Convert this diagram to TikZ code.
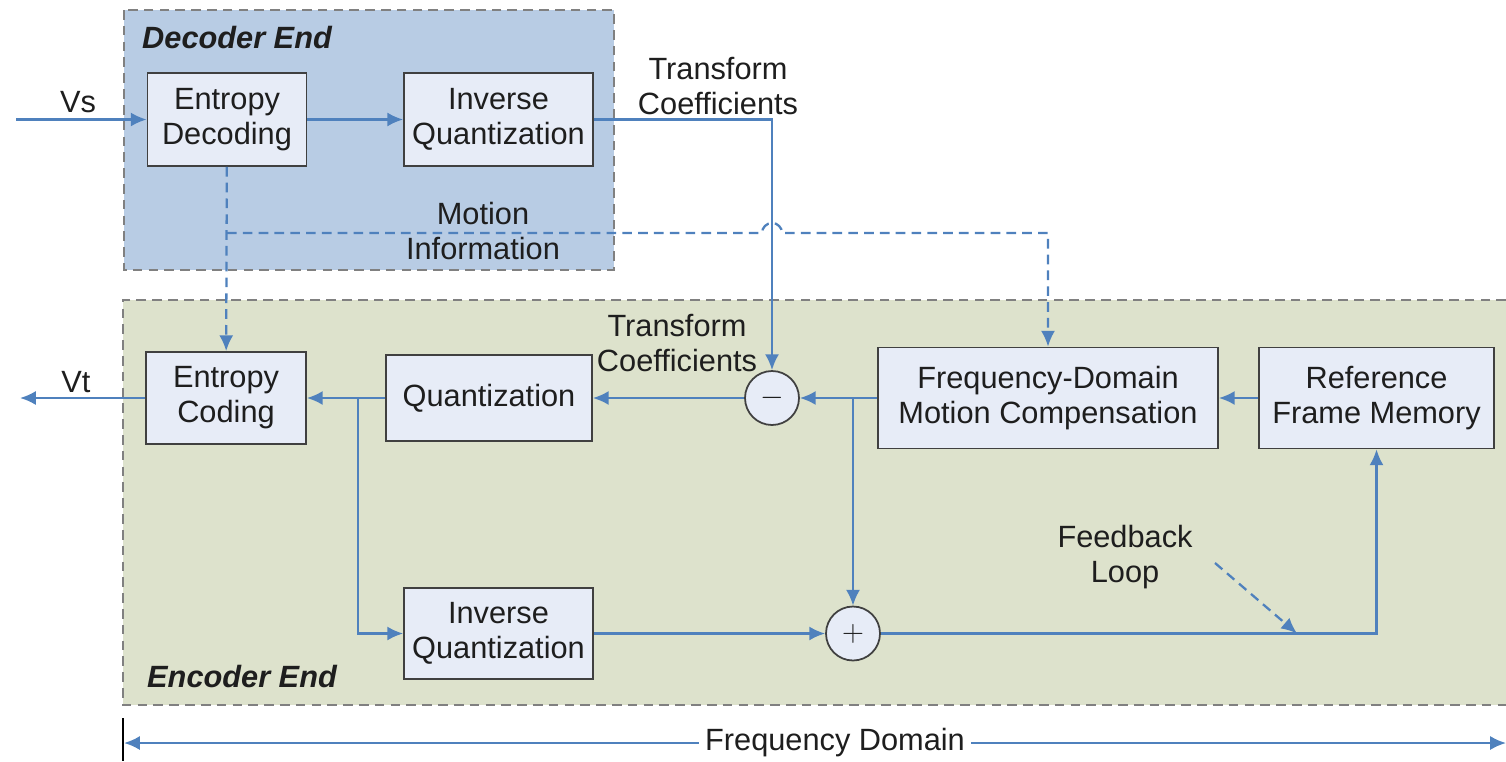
\documentclass[tikz,border=0pt]{standalone}
\usepackage{fontspec}
\setmainfont{Liberation Sans}
\usetikzlibrary{arrows.meta}
\definecolor{decfill}{RGB}{184,204,228}
\definecolor{encfill}{RGB}{221,226,204}
\definecolor{blockfill}{RGB}{231,236,247}
\definecolor{linecol}{RGB}{79,129,189}
\definecolor{txtcol}{RGB}{30,30,30}
\begin{document}
\begin{tikzpicture}[
                            x=0.02cm, y=-0.02cm,
                            >={Latex[length=9pt,width=8pt]},
                            font=\fontsize{17.5}{20}\selectfont,
                            text=txtcol,
                            block/.style={draw=black!75, line width=1pt, fill=blockfill, rectangle, minimum height=1.86cm, align=center},
                            sum/.style={draw=black!75, line width=1pt, fill=blockfill, circle, minimum size=1.08cm, inner sep=0pt},
                            flow/.style={draw=linecol, line width=1.3pt},
                            info/.style={flow, dash pattern=on 5.5pt off 3.5pt},
                            region/.style={draw=black!50, line width=1.1pt, dash pattern=on 5.5pt off 3.5pt}
                            ]

                            \useasboundingbox (0,0) rectangle (1506,761);

                            \fill[decfill] (124,10) rectangle (614,270);
                            \draw[region] (124,10) rectangle (614,270);
                            \fill[encfill] (123,300) rectangle (1506,705);
                            \draw[region] (1506,300) -- (123,300) -- (123,705) -- (1506,705);

                            \node [anchor=west] (decend) at (136,38) {\textbf{\textit{Decoder End}}};
                            \node [anchor=west] (encend) at (141,677) {\textbf{\textit{Encoder End}}};

                            \node [block, minimum width=3.18cm] (entdec) at (227,119.5) {Entropy\\Decoding};
                            \node [block, minimum width=3.78cm] (invqdec) at (498.5,119.5) {Inverse\\Quantization};
                            \node [block, minimum width=3.2cm, minimum height=1.84cm] (entcod) at (226,398) {Entropy\\Coding};
                            \node [block, minimum width=4.12cm, minimum height=1.72cm] (quant) at (489,398) {Quantization};
                            \node [sum] (sub) at (772,398) {$-$};
                            \node [block, minimum width=6.8cm, minimum height=2.02cm] (fdmc) at (1048,398) {Frequency-Domain\\Motion Compensation};
                            \node [block, minimum width=4.7cm, minimum height=2.02cm] (refmem) at (1376.5,398) {Reference\\Frame Memory};
                            \node [block, minimum width=3.78cm, minimum height=1.82cm] (invqenc) at (498.5,633.5) {Inverse\\Quantization};
                            \node [sum] (add) at (853,633.5) {$+$};

                            \node (vs) at (78,102) {Vs};
                            \node (vt) at (76,382) {Vt};
                            \node [align=center] (tcdec) at (718,86) {Transform\\Coefficients};
                            \node [align=center] (tcenc) at (677,343) {Transform\\Coefficients};
                            \node [align=center] (motion) at (483,231) {Motion\\Information};
                            \node [align=center] (fbloop) at (1125,557) {Feedback\\Loop};
                            \node (fd) at (835,743) {Frequency Domain};

                            \coordinate (vsin) at (16,119.5);
                            \coordinate (vtout) at (20,398);
                            \coordinate (mi) at (227,233);
                            \coordinate (hop) at (sub |- mi);
                            \coordinate (j1) at (358,398);
                            \coordinate (j2) at (853,398);
                            \coordinate (fbs) at (1215,563);
                            \coordinate (fbe) at (1297,633.5);
                            \coordinate (fdl) at (124,743);
                            \coordinate (fdr) at (1506,743);
                            \coordinate (ticktop) at (123,718);
                            \coordinate (tickbot) at (123,761);

                            \draw[flow,->] (vsin) -- (entdec);
                            \draw[flow,->] (entdec) -- (invqdec);
                            \draw[flow,->] (invqdec) -| (sub);
                            \draw[info,->] (entdec) -- (entcod);
                            \draw[info,->] (mi) -- ([xshift=-0.2cm]hop) arc[start angle=180, end angle=0, radius=0.2cm] -| (fdmc.north);
                            \draw[flow,->] (refmem) -- (fdmc);
                            \draw[flow,->] (fdmc) -- (sub);
                            \draw[flow,->] (sub) -- (quant);
                            \draw[flow,->] (quant) -- (entcod);
                            \draw[flow,->] (entcod) -- (vtout);
                            \draw[flow,->] (j1) |- (invqenc);
                            \draw[flow,->] (j2) -- (add);
                            \draw[flow,->] (invqenc) -- (add);
                            \draw[flow,->] (add) -| (refmem);
                            \draw[info,->] (fbs) -- (fbe);
                            \draw[black, line width=1.1pt] (ticktop) -- (tickbot);
                            \draw[flow,->] (fd) -- (fdl);
                            \draw[flow,->] (fd) -- (fdr);
                        \end{tikzpicture}
\end{document}
